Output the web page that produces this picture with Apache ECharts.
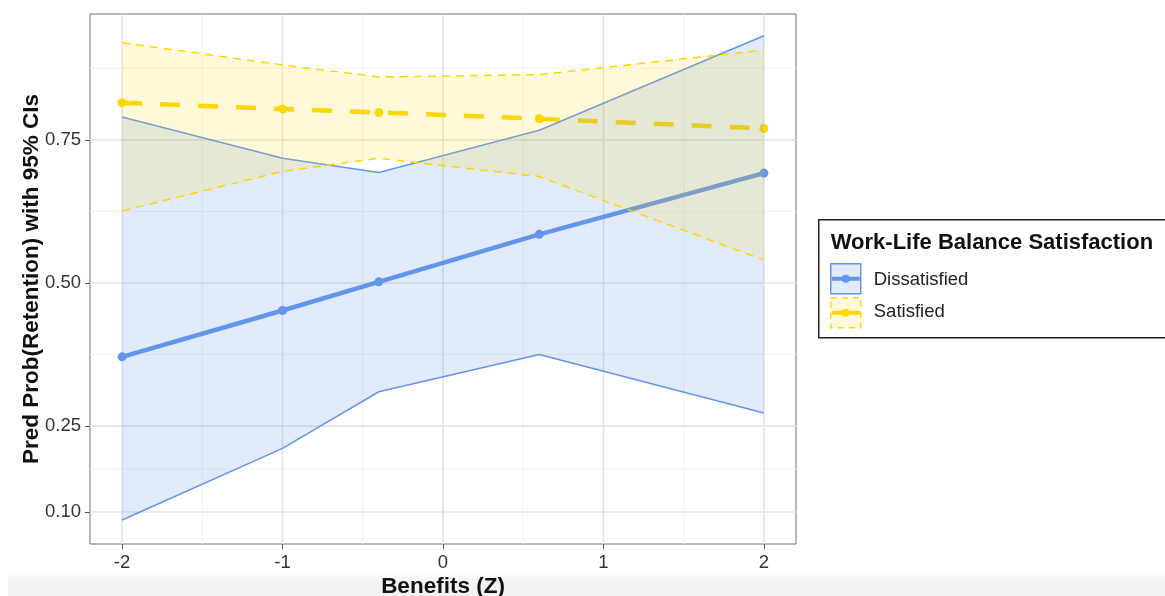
<!DOCTYPE html>
<html>
<head>
<meta charset="utf-8">
<script src="https://cdn.jsdelivr.net/npm/echarts@6/dist/echarts.min.js"></script>
<style>
html,body{margin:0;padding:0;background:#fff;}
#chart{width:1165px;height:596px;}
</style>
</head>
<body>
<div id="chart"></div>
<script>
const xVals = [-2, -1, -0.4, 0.6, 2];
const dissFit = [0.371, 0.452, 0.502, 0.585, 0.692];
const dissLo  = [0.086, 0.211, 0.310, 0.375, 0.273];
const dissHi  = [0.790, 0.718, 0.693, 0.767, 0.932];
const satFit  = [0.815, 0.804, 0.798, 0.787, 0.770];
const satLo   = [0.626, 0.695, 0.718, 0.686, 0.540];
const satHi   = [0.920, 0.881, 0.860, 0.864, 0.907];
const xTicks = [-2, -1, 0, 1, 2];
const xMinor = [-1.5, -0.5, 0.5, 1.5];
const yTicks = [0.10, 0.25, 0.50, 0.75];
const yMinor = [0.175, 0.375, 0.625, 0.875];
const groupNames = ['Dissatisfied', 'Satisfied'];
const legendTitle = 'Work-Life Balance Satisfaction';

const BLUE = '#6495ED', GOLD = '#FFD700';
const FONT = '"Liberation Sans", Arial, Helvetica, sans-serif';

const chart = echarts.init(document.getElementById('chart'));

function pts(a) { return xVals.map((x, i) => [x, a[i]]); }

function ribbon(lo, hi, fill, z) {
  return {
    type: 'custom', z: z, silent: true,
    data: xVals.map((x, i) => [x, lo[i], hi[i]]),
    encode: { x: 0, y: [1, 2] },
    renderItem: function (params, api) {
      if (params.dataIndex !== 0) return null;
      const top = xVals.map((x, i) => api.coord([x, hi[i]]));
      const bot = xVals.map((x, i) => api.coord([x, lo[i]])).reverse();
      return { type: 'polygon', shape: { points: top.concat(bot) }, style: { fill: fill } };
    }
  };
}
function boundLine(vals, color, dashed, z) {
  return {
    type: 'line', z: z, silent: true, symbol: 'none',
    data: pts(vals),
    lineStyle: { color: color, width: 1.5, type: dashed ? [8, 6] : 'solid' }
  };
}

// grid lines: [x, y, orientation(0 = vertical, 1 = horizontal), major(1) / minor(0)]
const gridData = [].concat(
  xMinor.map(v => [v, 0.5, 0, 0]), yMinor.map(v => [0, v, 1, 0]),
  xTicks.map(v => [v, 0.5, 0, 1]), yTicks.map(v => [0, v, 1, 1])
);

const option = {
  animation: false,
  backgroundColor: '#fff',
  grid: { left: 90, right: 369, top: 14, height: 530, show: true, borderColor: '#707070', borderWidth: 1, containLabel: false, outerBoundsMode: 'none' },
  xAxis: {
    type: 'value', min: -2.2, max: 2.2,
    name: 'Benefits (Z)', nameLocation: 'middle', nameGap: 31, nameMoveOverlap: false,
    nameTextStyle: { fontFamily: FONT, fontSize: 22.5, fontWeight: 'bold', color: '#111' },
    axisLine: { show: false, onZero: false },
    axisTick: { show: true, customValues: xTicks, length: 5, lineStyle: { color: '#555', width: 1 } },
    axisLabel: { customValues: xTicks, fontFamily: FONT, fontSize: 18.5, color: '#333', margin: 9 },
    splitLine: { show: false }
  },
  yAxis: {
    type: 'value', min: 0.044, max: 0.97,
    name: 'Pred Prob(Retention) with 95% CIs', nameLocation: 'middle', nameGap: 47, nameRotate: 90, nameMoveOverlap: false,
    nameTextStyle: { fontFamily: FONT, fontSize: 22.5, fontWeight: 'bold', color: '#111' },
    axisLine: { show: false, onZero: false },
    axisTick: { show: true, customValues: yTicks, length: 5, lineStyle: { color: '#555', width: 1 } },
    axisLabel: { customValues: yTicks, formatter: v => v.toFixed(2), fontFamily: FONT, fontSize: 18.5, color: '#333', margin: 9 },
    splitLine: { show: false }
  },
  series: [
    {
      type: 'custom', z: 0, silent: true, clip: true,
      data: gridData, encode: { x: 0, y: 1 },
      renderItem: function (params, api) {
        const cs = params.coordSys;
        const p = api.coord([api.value(0), api.value(1)]);
        const major = api.value(3) === 1;
        const shape = api.value(2) === 0
          ? { x1: p[0], y1: cs.y, x2: p[0], y2: cs.y + cs.height }
          : { x1: cs.x, y1: p[1], x2: cs.x + cs.width, y2: p[1] };
        return { type: 'line', shape: shape, style: { stroke: major ? '#e4e4e4' : '#f2f2f2', lineWidth: major ? 1.6 : 1 } };
      }
    },
    {
      name: groupNames[0], type: 'line', z: 3, silent: true,
      data: pts(dissFit), symbol: 'circle', symbolSize: 9,
      itemStyle: { color: BLUE }, lineStyle: { color: BLUE, width: 4.5 }
    },
    {
      name: groupNames[1], type: 'line', z: 3, silent: true,
      data: pts(satFit), symbol: 'circle', symbolSize: 9,
      itemStyle: { color: GOLD }, lineStyle: { color: GOLD, width: 4.5, type: [20, 18] }
    },
    ribbon(dissLo, dissHi, 'rgba(100,149,237,0.19)', 4),
    boundLine(dissLo, BLUE, false, 4),
    boundLine(dissHi, BLUE, false, 4),
    ribbon(satLo, satHi, 'rgba(255,215,0,0.15)', 5),
    boundLine(satLo, GOLD, true, 5),
    boundLine(satHi, GOLD, true, 5)
  ],
  graphic: [
    {
      type: 'rect', z: -10, shape: { x: 8, y: 572, width: 1160, height: 30 },
      style: { fill: new echarts.graphic.LinearGradient(0, 0, 0, 1, [{ offset: 0, color: 'rgba(240,240,240,0)' }, { offset: 0.3, color: '#f4f4f4' }, { offset: 1, color: '#f1f1f1' }]) }
    },
    {
      type: 'group', left: 818, top: 219,
      children: [
        { type: 'rect', shape: { x: 0, y: 0, width: 360, height: 118 }, style: { fill: '#fff', stroke: '#222', lineWidth: 1.5 } },
        { type: 'text', x: 12, y: 23, style: { text: legendTitle, fontFamily: FONT, fontSize: 22, fontWeight: 'bold', fill: '#111', verticalAlign: 'middle' } },
        { type: 'rect', shape: { x: 12, y: 44, width: 30, height: 30 }, style: { fill: 'rgba(100,149,237,0.19)', stroke: BLUE, lineWidth: 1.5 } },
        { type: 'line', shape: { x1: 13, y1: 59, x2: 41, y2: 59 }, style: { stroke: BLUE, lineWidth: 4 } },
        { type: 'circle', shape: { cx: 27, cy: 59, r: 4 }, style: { fill: BLUE } },
        { type: 'text', x: 55, y: 60, style: { text: groupNames[0], fontFamily: FONT, fontSize: 18.5, fill: '#222', verticalAlign: 'middle' } },
        { type: 'rect', shape: { x: 12, y: 78, width: 30, height: 30 }, style: { fill: 'rgba(255,215,0,0.15)', stroke: GOLD, lineWidth: 1.5, lineDash: [6, 5] } },
        { type: 'line', shape: { x1: 13, y1: 93, x2: 41, y2: 93 }, style: { stroke: GOLD, lineWidth: 4, lineDash: [12, 6] } },
        { type: 'circle', shape: { cx: 27, cy: 93, r: 4 }, style: { fill: GOLD } },
        { type: 'text', x: 55, y: 92, style: { text: groupNames[1], fontFamily: FONT, fontSize: 18.5, fill: '#222', verticalAlign: 'middle' } }
      ]
    }
  ]
};
chart.setOption(option);
</script>
</body>
</html>
